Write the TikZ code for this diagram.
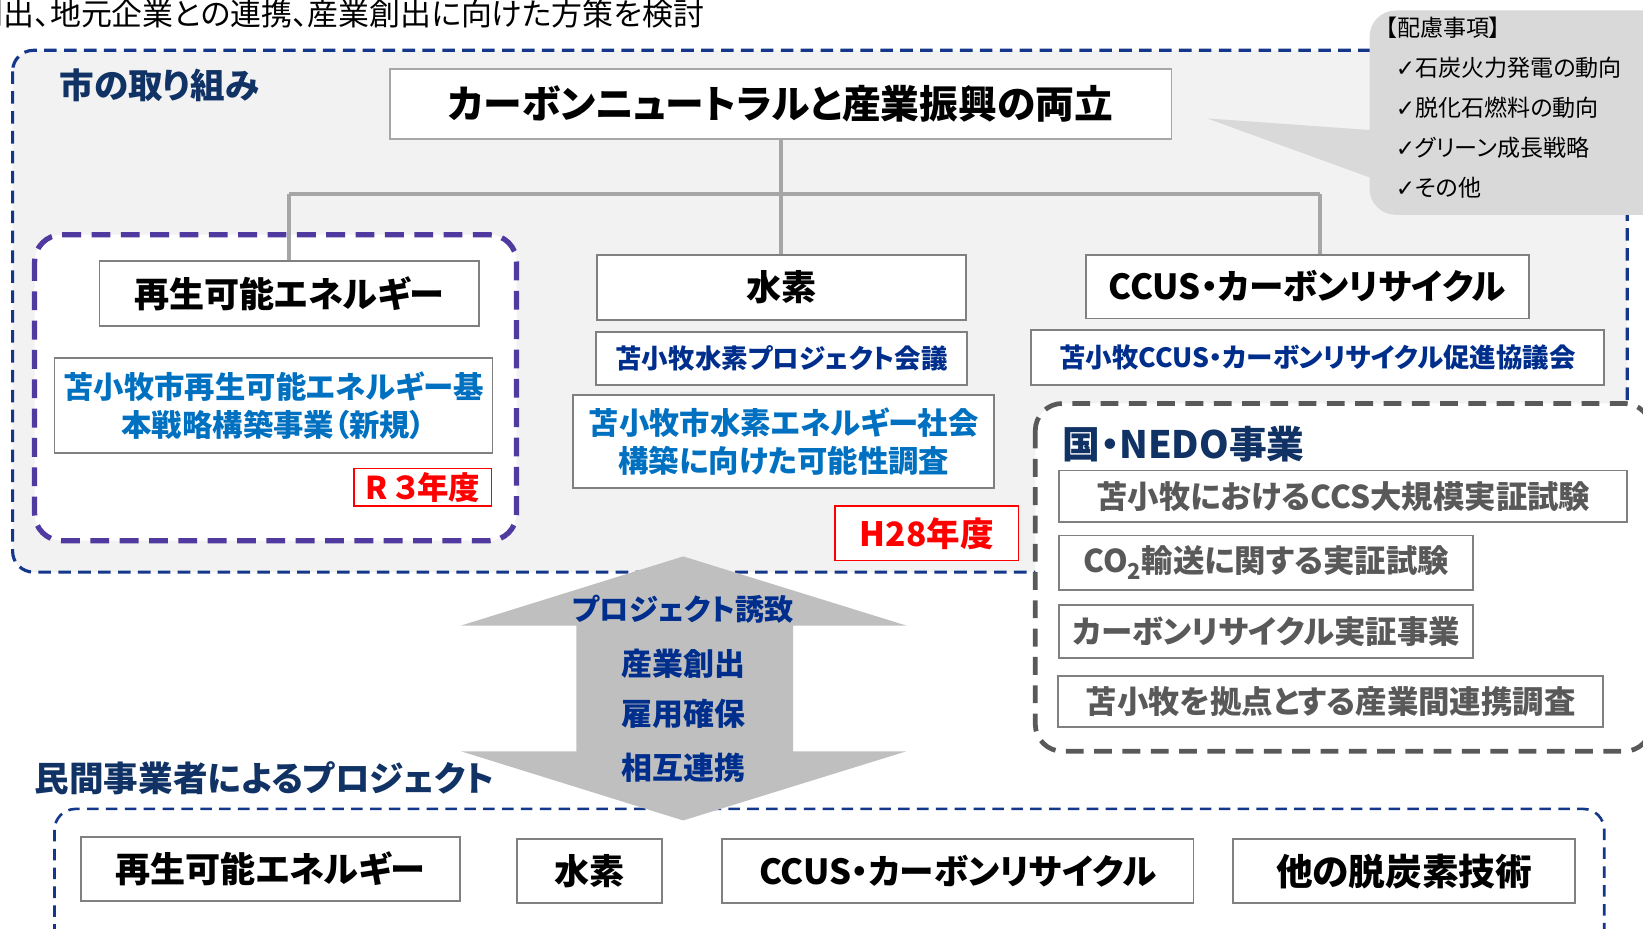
\documentclass[tikz,border=0pt]{standalone}
\usepackage{fontspec}
\newfontfamily\jp[RawFeature=+palt]{Noto Sans CJK JP}
\newfontfamily\chk{DejaVu Sans}
\usetikzlibrary{positioning}
\definecolor{citynavy}{RGB}{20,55,140}
\definecolor{labnavy}{RGB}{16,50,100}
\definecolor{itemblue}{RGB}{0,112,192}
\definecolor{itemnavy}{RGB}{0,46,140}
\definecolor{groupviolet}{RGB}{80,58,160}
\definecolor{boxgray}{RGB}{128,128,128}
\definecolor{textgray}{RGB}{89,89,89}
\definecolor{linegray}{RGB}{166,166,166}
\definecolor{arrowgray}{RGB}{191,191,191}
\definecolor{notegray}{RGB}{217,217,217}
\definecolor{panelgray}{RGB}{242,242,242}

\begin{document}
\begin{tikzpicture}[x=1pt, y=-1pt,
    every node/.style={inner sep=0pt, font=\jp},
    city box/.style={draw=citynavy, line width=3pt, dash pattern=on 12pt off 7pt, fill=panelgray, rounded corners=20pt},
    priv box/.style={draw=citynavy, line width=2.5pt, dash pattern=on 11pt off 7pt, rounded corners=20pt},
    group box/.style={draw=groupviolet, line width=5pt, dash pattern=on 18pt off 10pt, fill=white, rounded corners=26pt},
    nedo box/.style={draw=textgray, line width=4.5pt, dash pattern=on 17pt off 10pt, fill=white, rounded corners=26pt},
    sec label/.style={anchor=west, text=labnavy, font={\jp\bfseries\fontsize{33}{38}\selectfont}},
    plain box/.style={draw=boxgray, line width=1.8pt, fill=white},
    head/.style={plain box, font={\jp\bfseries\fontsize{33.5}{40}\selectfont}},
    ccus head/.style={head, font={\jp\bfseries\fontsize{33}{40}\selectfont}},
    blue item/.style={plain box, align=center, text=itemblue, font={\jp\bfseries\fontsize{29}{36}\selectfont}},
    navy item/.style={plain box, text=itemnavy, font={\jp\bfseries\fontsize{25.3}{30}\selectfont}},
    nedo item/.style={plain box, text=textgray, font={\jp\bfseries\fontsize{30}{34}\selectfont}},
    year box/.style={draw=red, line width=1.5pt, fill=white, text=red, font={\jp\bfseries\fontsize{30}{34}\selectfont}},
    conn/.style={draw=linegray, line width=4pt},
    note line/.style={anchor=west, font={\jp\fontsize{22}{26}\selectfont}},
    flow text/.style={text=itemnavy, font={\jp\bfseries\fontsize{29.5}{34}\selectfont}},
]
\useasboundingbox (0,0) rectangle (1568,886);

\node[anchor=east, font={\jp\fontsize{29.5}{32}\selectfont}] (lead) at (672,13) {創出、地元企業との連携、産業創出に向けた方策を検討};

% city
\draw[city box] (12,48) rectangle (1553,546);
\node[sec label] (city) at (57,81) {市の取り組み};
\draw[group box] (33,224) rectangle (493,516);

\coordinate (jl) at (276,185);
\coordinate (jr) at (1260,185);
\node[plain box, draw=linegray, minimum width=746, minimum height=67, font={\jp\bfseries\fontsize{37}{42}\selectfont}] (title) at (745,99.5) {カーボンニュートラルと産業振興の両立};
\draw[conn] (title.south) -- (title.south |- jl);
\draw[conn] (jl) -- (jr);
\draw[conn] (jl) -- ++(0,64);
\draw[conn] (title.south |- jl) -- ++(0,60);
\draw[conn] (jr) -- ++(0,64);

\node[head, minimum width=362, minimum height=62] (re) at (276,280) {再生可能エネルギー};
\node[blue item, minimum width=418, minimum height=90] (replan) at (261,387) {苫小牧市再生可能エネルギー基\\本戦略構築事業（新規）};
\node[year box, minimum width=131, minimum height=36] (r3) at (403.5,465) {R\hspace{5pt}３年度};

\node[head, minimum width=352, minimum height=62] (h2) at (746,274) {水素};
\node[navy item, minimum width=354, minimum height=50] (h2conf) at (746,342) {苫小牧水素プロジェクト会議};
\node[blue item, minimum width=402, minimum height=89] (h2study) at (748,421.5) {苫小牧市水素エネルギー社会\\構築に向けた可能性調査};
\node[year box, minimum width=175, minimum height=52, font={\jp\bfseries\fontsize{32}{36}\selectfont}] (h28) at (884.5,509) {H28年度};

\node[ccus head, minimum width=423, minimum height=61] (cc) at (1247.5,273.5) {CCUS・カーボンリサイクル};
\node[navy item, minimum width=547, minimum height=52] (ccconf) at (1257.5,341) {苫小牧CCUS・カーボンリサイクル促進協議会};

% note
\fill[notegray] (1152,113) -- (1320,125) -- (1320,174) -- cycle;
\fill[notegray, rounded corners=25pt] (1307,10) rectangle (1610,205);
\node[note line] (n0) at (1322,26) {【配慮事項】};
\node[note line] (n1) at (1332,65) {{\chk\fontsize{22}{24}\selectfont ✓}石炭火力発電の動向};
\node[note line] (n2) at (1332,103) {{\chk\fontsize{22}{24}\selectfont ✓}脱化石燃料の動向};
\node[note line] (n3) at (1332,141) {{\chk\fontsize{22}{24}\selectfont ✓}グリーン成長戦略};
\node[note line] (n4) at (1332,179) {{\chk\fontsize{22}{24}\selectfont ✓}その他};

% nedo
\draw[nedo box] (988,385) rectangle (1576,717);
\node[sec label, font={\jp\bfseries\fontsize{36}{40}\selectfont}] (nedo) at (1014,424) {国・NEDO事業};
\node[nedo item, minimum width=542, minimum height=49] (e1) at (1282,473.5) {苫小牧におけるCCS大規模実証試験};
\node[nedo item, minimum width=395, minimum height=52] (e2) at (1208.5,537) {CO\textsubscript{2}輸送に関する実証試験};
\node[nedo item, minimum width=395, minimum height=51] (e3) at (1208.5,602.5) {カーボンリサイクル実証事業};
\node[nedo item, minimum width=520, minimum height=49] (e4) at (1270,669.5) {苫小牧を拠点とする産業間連携調査};

% private
\node[sec label] (priv) at (33,743) {民間事業者によるプロジェクト};
\draw[priv box] (52,772) rectangle (1531,930);
\node[head, minimum width=362, minimum height=61] (p1) at (258,829.5) {再生可能エネルギー};
\node[head, minimum width=139, minimum height=61] (p2) at (562.5,831.5) {水素};
\node[ccus head, minimum width=450, minimum height=61] (p3) at (914,831.5) {CCUS・カーボンリサイクル};
\node[head, minimum width=326, minimum height=61, font={\jp\bfseries\fontsize{35}{40}\selectfont}] (p4) at (1340,831.5) {他の脱炭素技術};

% two-way arrow
\fill[arrowgray] (652,531) -- (865,597) -- (757,597) -- (757,717) -- (865,717) -- (652,783)
    -- (440,717) -- (550,717) -- (550,597) -- (440,597) -- cycle;
\node[flow text, font={\jp\bfseries\fontsize{28}{34}\selectfont}] (f1) at (652,581) {プロジェクト誘致};
\node[flow text] (f2) at (652,633) {産業創出};
\node[flow text] (f3) at (652,681) {雇用確保};
\node[flow text] (f4) at (652,733) {相互連携};

\end{tikzpicture}
\end{document}
